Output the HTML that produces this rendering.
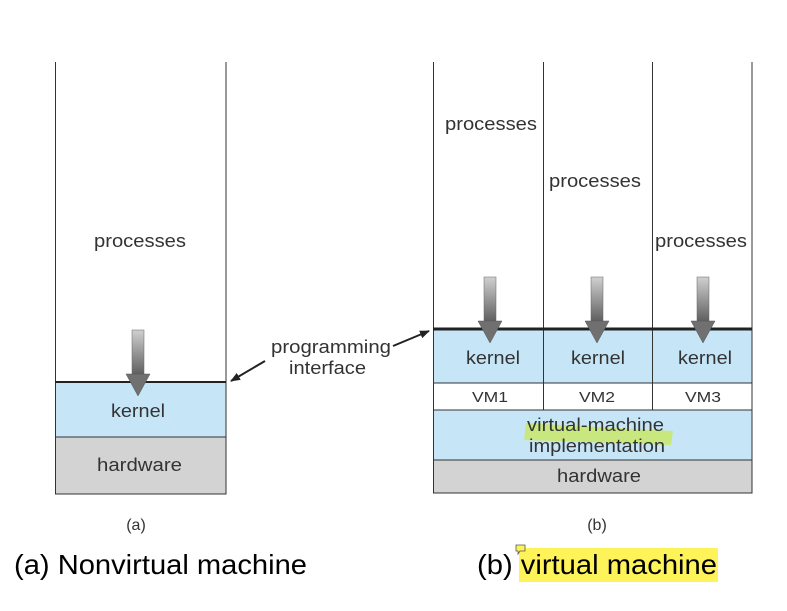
<!DOCTYPE html>
<html><head><style>
body{margin:0;background:#fff;width:787px;height:611px;overflow:hidden;font-family:"Liberation Sans",sans-serif;}
svg{position:absolute;left:0;top:0}
</style></head><body>
<svg width="787" height="611" viewBox="0 0 787 611" font-family="Liberation Sans, sans-serif">
<defs>
<linearGradient id="g" x1="0" y1="0" x2="0" y2="1"><stop offset="0" stop-color="#d0d0d0"/><stop offset="1" stop-color="#606060"/></linearGradient>
<marker id="ah" markerWidth="10" markerHeight="8" refX="9" refY="4" orient="auto" markerUnits="userSpaceOnUse"><path d="M0,0 L10,4 L0,8 Z" fill="#222"/></marker>
<g id="arr"><rect x="-6" y="0" width="12" height="44" fill="url(#g)" stroke="#666" stroke-width="0.5"/><path d="M-12,44 L12,44 L0,66 Z" fill="#707070" stroke="#555" stroke-width="0.5"/></g>
</defs>
<!-- Left -->
<rect x="55" y="382" width="171" height="55" fill="#c6e6f8"/>
<rect x="55" y="437" width="171" height="57" fill="#d3d3d3"/>
<path d="M55.5,62 V494 H226 V382 M226,62 V382" fill="none" stroke="#333" stroke-width="1"/>
<line x1="55" y1="382" x2="226" y2="382" stroke="#222" stroke-width="2"/>
<line x1="55" y1="437" x2="226" y2="437" stroke="#333"/>
<use href="#arr" x="138" y="330"/>
<!-- Right -->
<rect x="433" y="329" width="319" height="54" fill="#c6e6f8"/>
<rect x="433" y="410" width="319" height="50" fill="#c6e6f8"/>
<rect x="433" y="460" width="319" height="33" fill="#d3d3d3"/>
<path d="M433.5,62 V493 H752 V62" fill="none" stroke="#333"/>
<line x1="543.5" y1="62" x2="543.5" y2="410" stroke="#333"/>
<line x1="652.5" y1="62" x2="652.5" y2="410" stroke="#333"/>
<line x1="433" y1="329" x2="752" y2="329" stroke="#222" stroke-width="3"/>
<line x1="433" y1="383" x2="752" y2="383" stroke="#333"/>
<line x1="433" y1="410" x2="752" y2="410" stroke="#333"/>
<line x1="433" y1="460" x2="752" y2="460" stroke="#333"/>
<use href="#arr" x="490" y="277"/>
<use href="#arr" x="597" y="277"/>
<use href="#arr" x="703" y="277"/>
<path d="M526,423 L673,431 L671,445 L524,440 Z" fill="#c8e86a" opacity="0.85"/>
<g font-size="18" fill="#333">
<text x="94" y="247" textLength="92" lengthAdjust="spacingAndGlyphs">processes</text>
<text x="111" y="417" textLength="54" lengthAdjust="spacingAndGlyphs">kernel</text>
<text x="97" y="471" textLength="85" lengthAdjust="spacingAndGlyphs">hardware</text>
<text x="271" y="353" textLength="120" lengthAdjust="spacingAndGlyphs">programming</text>
<text x="289" y="374" textLength="77" lengthAdjust="spacingAndGlyphs">interface</text>
<text x="445" y="130" textLength="92" lengthAdjust="spacingAndGlyphs">processes</text>
<text x="549" y="187" textLength="92" lengthAdjust="spacingAndGlyphs">processes</text>
<text x="655" y="247" textLength="92" lengthAdjust="spacingAndGlyphs">processes</text>
<text x="466" y="364" textLength="54" lengthAdjust="spacingAndGlyphs">kernel</text>
<text x="571" y="364" textLength="54" lengthAdjust="spacingAndGlyphs">kernel</text>
<text x="678" y="364" textLength="54" lengthAdjust="spacingAndGlyphs">kernel</text>
<text x="527" y="431" textLength="137" lengthAdjust="spacingAndGlyphs">virtual-machine</text>
<text x="529" y="452" textLength="136" lengthAdjust="spacingAndGlyphs">implementation</text>
<text x="557" y="482" textLength="84" lengthAdjust="spacingAndGlyphs">hardware</text>
</g>
<g font-size="15" fill="#333">
<text x="472" y="402" textLength="36" lengthAdjust="spacingAndGlyphs">VM1</text>
<text x="579" y="402" textLength="36" lengthAdjust="spacingAndGlyphs">VM2</text>
<text x="685" y="402" textLength="36" lengthAdjust="spacingAndGlyphs">VM3</text>
</g>
<text x="136" y="530" font-size="16" text-anchor="middle" fill="#333">(a)</text>
<text x="597" y="530" font-size="16" text-anchor="middle" fill="#333">(b)</text>
<line x1="265" y1="361" x2="231" y2="381" stroke="#222" stroke-width="2" marker-end="url(#ah)"/>
<line x1="393" y1="346" x2="429" y2="331" stroke="#222" stroke-width="2" marker-end="url(#ah)"/>
<!-- captions -->
<text x="14" y="574" font-size="28" fill="#000" textLength="293" lengthAdjust="spacingAndGlyphs">(a) Nonvirtual machine</text>
<rect x="519" y="548" width="199" height="34" fill="#fff35a"/>
<path d="M516,545 h9 v6 h-5 l-2,3 v-3 h-2 z" fill="#fff35a" stroke="#555" stroke-width="0.8"/>
<text x="477" y="574" font-size="28" fill="#000" textLength="240" lengthAdjust="spacingAndGlyphs">(b) virtual machine</text>
</svg>
</body></html>
